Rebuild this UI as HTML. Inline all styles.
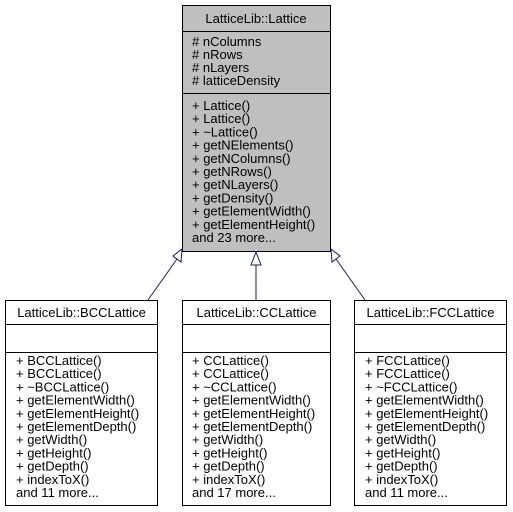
<!DOCTYPE html>
<html><head><meta charset="utf-8"><style>
html,body{margin:0;padding:0;background:#fff;}
svg{display:block;}
text{font-family:"Liberation Sans",Helvetica,Arial,sans-serif;font-size:13px;fill:#000;}
</style></head><body>
<svg width="513" height="512" viewBox="0 0 513 512" xmlns="http://www.w3.org/2000/svg">
<rect width="513" height="512" fill="#fff"/>
<rect x="182.5" y="5.5" width="148" height="246" fill="#bfbfbf" stroke="#000" stroke-width="1"/>
<line x1="182.5" y1="31.5" x2="330.5" y2="31.5" stroke="#000"/>
<line x1="182.5" y1="93.5" x2="330.5" y2="93.5" stroke="#000"/>
<text x="256" y="23" text-anchor="middle">LatticeLib::Lattice</text>
<g>
<text x="192" y="46"># nColumns</text>
<text x="192" y="59"># nRows</text>
<text x="192" y="72"># nLayers</text>
<text x="192" y="85"># latticeDensity</text>
</g>
<g>
<text x="192" y="110">+ Lattice()</text>
<text x="192" y="123.2">+ Lattice()</text>
<text x="192" y="136.4">+ ~Lattice()</text>
<text x="192" y="149.6">+ getNElements()</text>
<text x="192" y="162.8">+ getNColumns()</text>
<text x="192" y="176">+ getNRows()</text>
<text x="192" y="189.2">+ getNLayers()</text>
<text x="192" y="202.4">+ getDensity()</text>
<text x="192" y="215.6">+ getElementWidth()</text>
<text x="192" y="228.8">+ getElementHeight()</text>
<text x="192" y="242">and 23 more...</text>
</g>

<g stroke="#191970" stroke-width="1" fill="#fff">
<line x1="148" y1="300" x2="177" y2="259"/>
<polygon points="182,249 173,256 181,262"/>
<line x1="256" y1="300" x2="256" y2="265"/>
<polygon points="256,252 251,265 261,265"/>
<line x1="365" y1="300" x2="336" y2="259"/>
<polygon points="331,249 340,256 332,262"/>
</g>

<g>
<rect x="5.5" y="300.5" width="152" height="205" fill="#fff" stroke="#000"/>
<line x1="5.5" y1="324.5" x2="157.5" y2="324.5" stroke="#000"/>
<line x1="5.5" y1="352.5" x2="157.5" y2="352.5" stroke="#000"/>
<text x="81.5" y="317" text-anchor="middle">LatticeLib::BCCLattice</text>
<text x="16" y="365">+ BCCLattice()</text>
<text x="16" y="378.2">+ BCCLattice()</text>
<text x="16" y="391.4">+ ~BCCLattice()</text>
<text x="16" y="404.6">+ getElementWidth()</text>
<text x="16" y="417.8">+ getElementHeight()</text>
<text x="16" y="431">+ getElementDepth()</text>
<text x="16" y="444.2">+ getWidth()</text>
<text x="16" y="457.4">+ getHeight()</text>
<text x="16" y="470.6">+ getDepth()</text>
<text x="16" y="483.8">+ indexToX()</text>
<text x="16" y="497">and 11 more...</text>
</g>
<g>
<rect x="182.5" y="300.5" width="148" height="205" fill="#fff" stroke="#000"/>
<line x1="182.5" y1="324.5" x2="330.5" y2="324.5" stroke="#000"/>
<line x1="182.5" y1="352.5" x2="330.5" y2="352.5" stroke="#000"/>
<text x="256.5" y="317" text-anchor="middle">LatticeLib::CCLattice</text>
<text x="192" y="365">+ CCLattice()</text>
<text x="192" y="378.2">+ CCLattice()</text>
<text x="192" y="391.4">+ ~CCLattice()</text>
<text x="192" y="404.6">+ getElementWidth()</text>
<text x="192" y="417.8">+ getElementHeight()</text>
<text x="192" y="431">+ getElementDepth()</text>
<text x="192" y="444.2">+ getWidth()</text>
<text x="192" y="457.4">+ getHeight()</text>
<text x="192" y="470.6">+ getDepth()</text>
<text x="192" y="483.8">+ indexToX()</text>
<text x="192" y="497">and 17 more...</text>
</g>
<g>
<rect x="354.5" y="300.5" width="152" height="205" fill="#fff" stroke="#000"/>
<line x1="354.5" y1="324.5" x2="506.5" y2="324.5" stroke="#000"/>
<line x1="354.5" y1="352.5" x2="506.5" y2="352.5" stroke="#000"/>
<text x="430.5" y="317" text-anchor="middle">LatticeLib::FCCLattice</text>
<text x="365" y="365">+ FCCLattice()</text>
<text x="365" y="378.2">+ FCCLattice()</text>
<text x="365" y="391.4">+ ~FCCLattice()</text>
<text x="365" y="404.6">+ getElementWidth()</text>
<text x="365" y="417.8">+ getElementHeight()</text>
<text x="365" y="431">+ getElementDepth()</text>
<text x="365" y="444.2">+ getWidth()</text>
<text x="365" y="457.4">+ getHeight()</text>
<text x="365" y="470.6">+ getDepth()</text>
<text x="365" y="483.8">+ indexToX()</text>
<text x="365" y="497">and 11 more...</text>
</g>
</svg>
</body></html>
